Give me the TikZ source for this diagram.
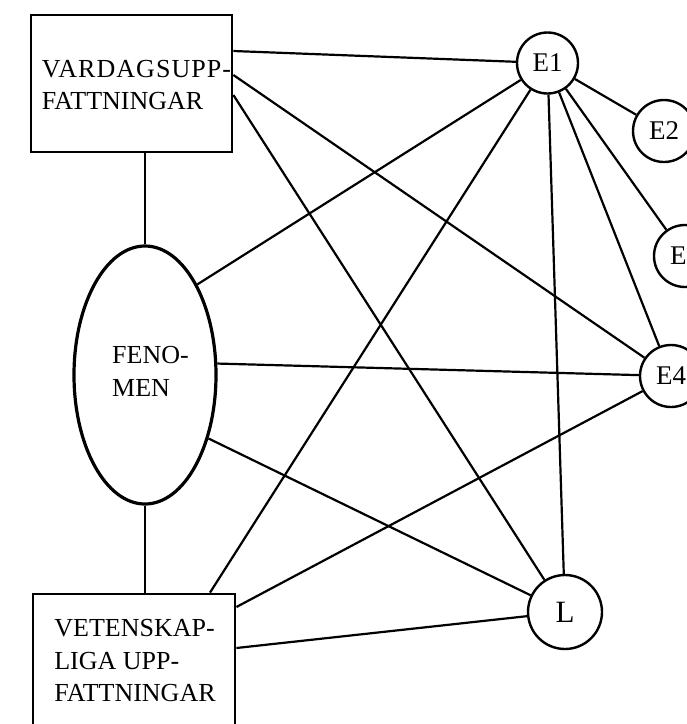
\documentclass[tikz,border=0pt]{standalone}
\usepackage{fontspec}
\setmainfont{Liberation Serif}
\usetikzlibrary{shapes.geometric}
\begin{document}
\begin{tikzpicture}[x=1pt,y=-1pt,
  conn/.style={line width=2.2pt},
  boxnode/.style={draw, line width=2.8pt, rectangle, inner sep=0pt},
  lbl/.style={font=\fontsize{26}{32.5}\selectfont, align=left, inner sep=0pt},
  enode/.style={draw, circle, line width=2.4pt, inner sep=0pt, minimum size=61pt, font=\fontsize{27}{30}\selectfont}]
\useasboundingbox (0,0) rectangle (687,724);
\clip (0,0) rectangle (687,724);
% boxes
\node[boxnode, minimum width=201pt, minimum height=137pt] (V) at (131.5,83.5) {};
\node[lbl] (Vt) at (136.5,85) {{\addfontfeatures{LetterSpace=4}VARDAGSUPP-}\\FATTNINGAR};
\node[boxnode, minimum width=202pt, minimum height=146pt] (W) at (134,667) {};
\node[lbl] (Wt) at (135,661) {VETENSKAP-\\LIGA UPP-\\FATTNINGAR};
% ellipse
\node[draw, ellipse, line width=3.2pt, minimum width=142pt, minimum height=258pt, inner sep=0pt] (F) at (145,375) {};
\node[lbl] (Ft) at (150.5,371.5) {FENO-\\MEN};
% circles
\node[enode] (E1) at (547.5,63) {E1};
\node[enode, minimum size=62pt] (E2) at (664,131) {E2};
\node[enode, minimum size=62pt] (E3) at (685,256) {E3};
\node[enode, minimum size=62pt] (E4) at (671,376) {E4};
\node[enode, minimum size=74pt, font=\fontsize{31}{34}\selectfont] (L) at (565,612) {L};
% connectors
\draw[conn] (F.north) -- (F.north |- V.south);
\draw[conn] (F.south) -- (F.south |- W.north);
\draw[conn] ([yshift=32.5pt]V.east) -- (E1);
\draw[conn] ([yshift=8.5pt]V.east) -- (E4);
\draw[conn] ([yshift=-11.5pt]V.east) -- (L);
\draw[conn] (F.60) -- (E1);
\draw[conn] (F.9) -- (E4);
\draw[conn] (F.-45) -- (L);
\draw[conn] ([xshift=76pt]W.north) -- (E1);
\draw[conn] ([yshift=60pt]W.east) -- (E4);
\draw[conn] ([yshift=19pt]W.east) -- (L);
\draw[conn] (E1) -- (E2);
\draw[conn] (E1) -- (E3);
\draw[conn] (E1) -- (E4);
\draw[conn] (E1) -- (L);
\end{tikzpicture}
\end{document}
